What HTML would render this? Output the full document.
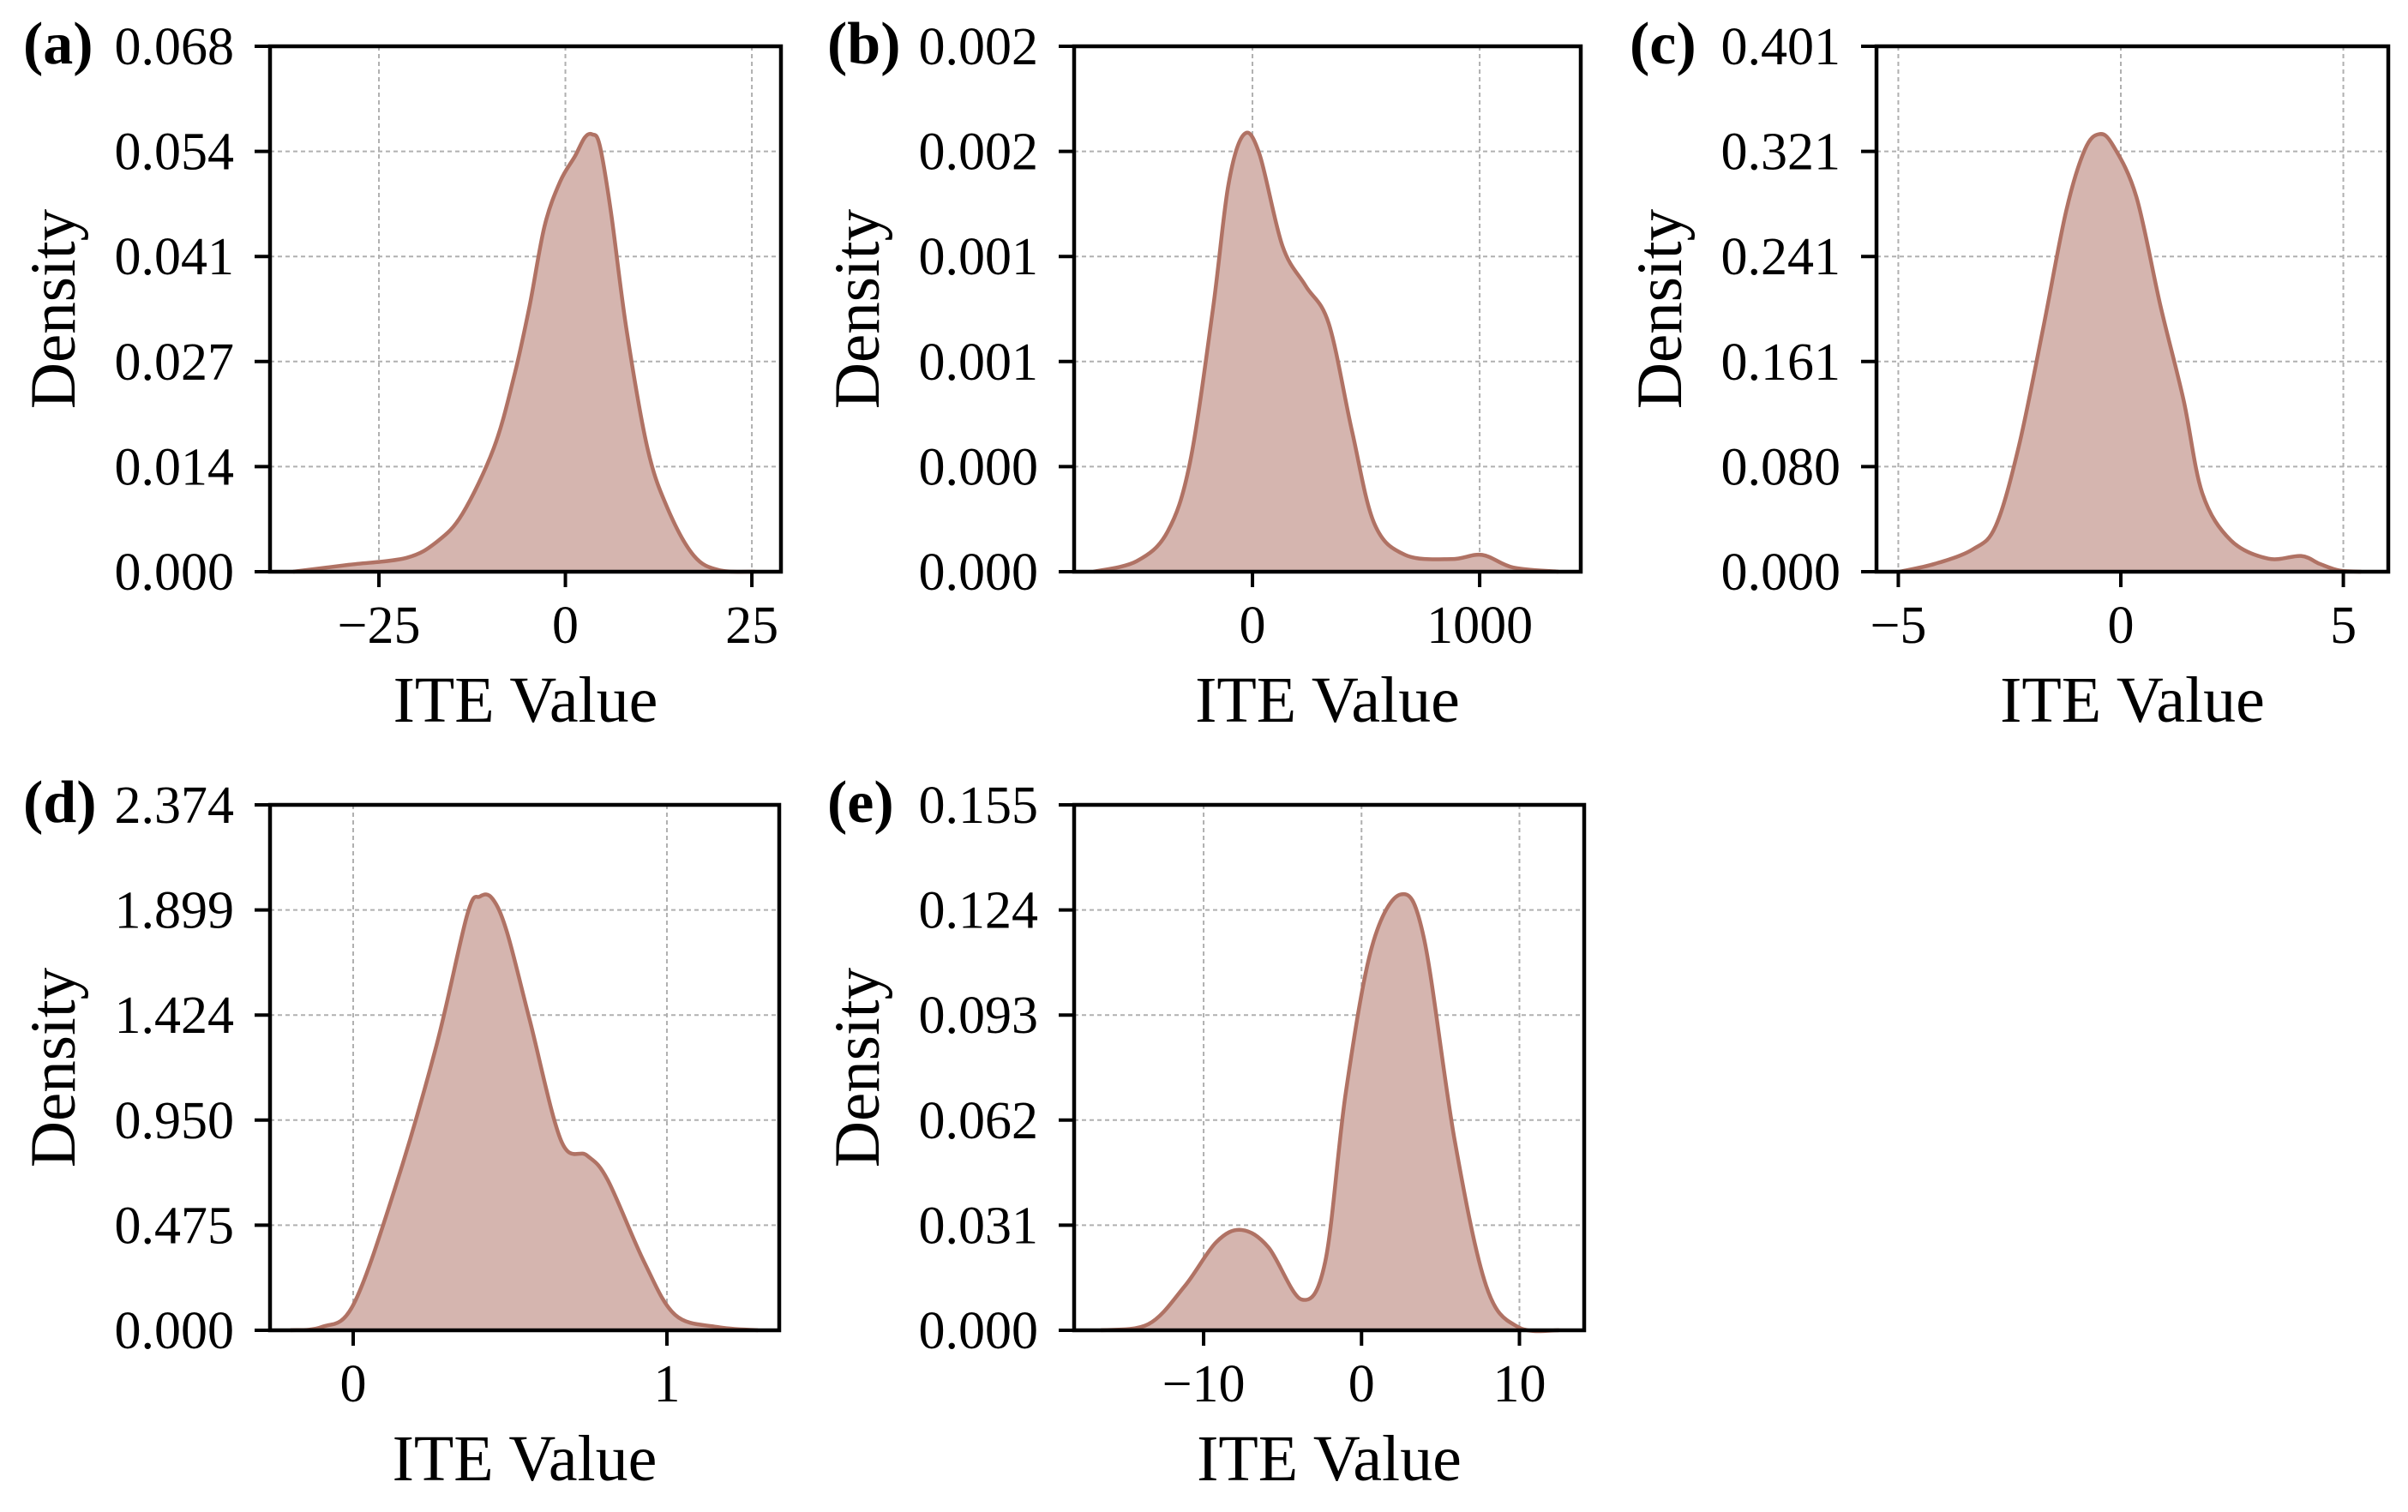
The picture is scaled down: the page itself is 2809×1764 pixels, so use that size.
<!DOCTYPE html>
<html><head><meta charset="utf-8">
<style>
html,body{margin:0;padding:0;background:#fff;}
svg{display:block;}
text{font-family:"Liberation Serif",serif;fill:#000;}
</style></head>
<body>
<svg id="fig" width="2809" height="1764" viewBox="0 0 2809 1764" xmlns="http://www.w3.org/2000/svg">
<rect x="0" y="0" width="2809" height="1764" fill="#fff"/>
</svg>
<script>
// ---- Panel (a) data ----
const aX = [-36.5,-29,-21.3,-17.2,-13.8,-9.6,-6.9,-4.8,-2.8,-0.7,1.3,2.6,3.6,4.6,6.1,8.2,11,13.7,17.2,20.6,25.4];
const aY = [0,0.0009,0.0018,0.0039,0.0075,0.016,0.0252,0.0344,0.0447,0.0505,0.0538,0.0562,0.0566,0.0552,0.0466,0.0313,0.016,0.0082,0.0021,0.0002,0];
const aXTicks = [-25,0,25];
const aXLabels = ["\u221225","0","25"];
const aYLabels = ["0.000","0.014","0.027","0.041","0.054","0.068"];
const aYMax = 0.068;
// ---- Panel (b) data ----
const bX = [-700,-510,-374,-275,-174,-106,-38,30,132,234,336,438,536,672,876,1011,1147,1347];
const bY = [0,0.00005,0.00019,0.00052,0.00125,0.00184,0.00208,0.00199,0.00155,0.00136,0.00118,0.00067,0.00023,0.00008,0.00006,0.00008,0.00002,0];
const bXTicks = [0,1000];
const bXLabels = ["0","1000"];
const bYLabels = ["0.000","0.000","0.001","0.001","0.002","0.002"];
const bYMax = 0.0025;
// ---- Panel (c) data ----
const cX = [-4.97,-4.18,-3.33,-2.81,-2.29,-1.75,-1.23,-0.81,-0.48,-0.17,0.35,0.89,1.41,1.83,2.47,3.31,4.05,4.47,4.9,5.4];
const cY = [0,0.006,0.017,0.035,0.096,0.185,0.275,0.322,0.334,0.325,0.286,0.203,0.131,0.060,0.024,0.010,0.012,0.006,0.001,0];
const cXTicks = [-5,0,5];
const cXLabels = ["\u22125","0","5"];
const cYLabels = ["0.000","0.080","0.161","0.241","0.321","0.401"];
const cYMax = 0.401;
// ---- Panel (d) data ----
const dX = [-0.2,-0.1,0,0.133,0.266,0.364,0.404,0.444,0.49,0.563,0.663,0.745,0.811,0.927,1.026,1.16,1.29];
const dY = [0,0.015,0.114,0.64,1.29,1.88,1.96,1.95,1.80,1.40,0.856,0.79,0.68,0.31,0.07,0.015,0];
const dXTicks = [0,1];
const dXLabels = ["0","1"];
const dYLabels = ["0.000","0.475","0.950","1.424","1.899","2.374"];
const dYMax = 2.374;
// ---- Panel (e) data ----
const eX = [-16.5,-13.5,-11.2,-9.2,-7.6,-5.9,-3.8,-2.3,-1.0,0.65,2.5,3.95,5.9,7.9,9.9,12.5];
const eY = [0,0.0018,0.013,0.026,0.0296,0.0245,0.0091,0.0202,0.070,0.113,0.1286,0.1157,0.056,0.013,0.001,0];
const eXTicks = [-10,0,10];
const eXLabels = ["\u221210","0","10"];
const eYLabels = ["0.000","0.031","0.062","0.093","0.124","0.155"];
const eYMax = 0.155;

const NS = "http://www.w3.org/2000/svg";
const svg = document.getElementById('fig');
function mk(tag, attrs, parent){
  const el = document.createElementNS(NS, tag);
  for (const k in attrs) el.setAttribute(k, attrs[k]);
  (parent||svg).appendChild(el);
  return el;
}
function smoothPath(pts){
  let d = "M" + pts[0][0].toFixed(2) + "," + pts[0][1].toFixed(2);
  for (let i=0;i<pts.length-1;i++){
    const p0 = pts[i-1]||pts[i], p1=pts[i], p2=pts[i+1], p3=pts[i+2]||pts[i+1];
    const c1x = p1[0]+(p2[0]-p0[0])/6, c1y = p1[1]+(p2[1]-p0[1])/6;
    const c2x = p2[0]-(p3[0]-p1[0])/6, c2y = p2[1]-(p3[1]-p1[1])/6;
    d += " C"+c1x.toFixed(2)+","+c1y.toFixed(2)+" "+c2x.toFixed(2)+","+c2y.toFixed(2)+" "+p2[0].toFixed(2)+","+p2[1].toFixed(2);
  }
  return d;
}

const panels = [
  {id:'a', letter:'(a)', L:315, R:911, T:54, B:667, xmin:-39.6, xmax:28.9, xs:aX, ys:aY, xt:aXTicks, xl:aXLabels, yl:aYLabels, ymax:aYMax},
  {id:'b', letter:'(b)', L:1253, R:1844, T:54, B:667, xmin:-785, xmax:1445, xs:bX, ys:bY, xt:bXTicks, xl:bXLabels, yl:bYLabels, ymax:bYMax},
  {id:'c', letter:'(c)', L:2189, R:2786, T:54, B:667, xmin:-5.49, xmax:6.01, xs:cX, ys:cY, xt:cXTicks, xl:cXLabels, yl:cYLabels, ymax:cYMax},
  {id:'d', letter:'(d)', L:315, R:909, T:939, B:1552, xmin:-0.265, xmax:1.358, xs:dX, ys:dY, xt:dXTicks, xl:dXLabels, yl:dYLabels, ymax:dYMax},
  {id:'e', letter:'(e)', L:1253, R:1848, T:939, B:1552, xmin:-18.2, xmax:14.1, xs:eX, ys:eY, xt:eXTicks, xl:eXLabels, yl:eYLabels, ymax:eYMax}
];

panels.forEach(p=>{
  const g = mk('g',{});
  
  
  const sx = v => p.L + (v - p.xmin)/(p.xmax - p.xmin)*(p.R - p.L);
  const sy = v => p.B - v/p.ymax*(p.B - p.T);
  const nY = p.yl.length - 1;
  p.xt.forEach((t,i)=>{
    const ln = mk('line',{x1:sx(t),x2:sx(t),y1:p.T,y2:p.B,stroke:'#b0b0b0','stroke-width':2,'stroke-dasharray':'5,4'},g);
    
    
  });
  p.yl.forEach((lab,i)=>{
    const v = p.ymax*i/nY;
    const ln = mk('line',{x1:p.L,x2:p.R,y1:sy(v),y2:sy(v),stroke:'#b0b0b0','stroke-width':2,'stroke-dasharray':'5,4'},g);
    
    
  });
  const pts = p.xs.map((x,i)=>[sx(x), sy(p.ys[i])]);
  const line = smoothPath(pts);
  const area = mk('path',{d: line + " L"+pts[pts.length-1][0].toFixed(2)+","+p.B+" L"+pts[0][0].toFixed(2)+","+p.B+" Z", fill:'#d5b5af', stroke:'none'},g);
  
  
  const curve = mk('path',{d: line, fill:'none', stroke:'#b07264','stroke-width':4.5,'stroke-linejoin':'round'},g);
  
  
  const fr = mk('rect',{x:p.L,y:p.T,width:p.R-p.L,height:p.B-p.T,fill:'none',stroke:'#000','stroke-width':4.5},g);
  
  
  p.yl.forEach((lab,i)=>{
    const y = sy(p.ymax*i/nY);
    const tk = mk('line',{x1:p.L-18,x2:p.L,y1:y,y2:y,stroke:'#000','stroke-width':4},g);
    
    
    const tx = mk('text',{x:p.L-42,y:y+21,'font-size':62,'text-anchor':'end'},g);
    tx.textContent = lab;
    
    
  });
  p.xt.forEach((t,i)=>{
    const x = sx(t);
    const tk = mk('line',{x1:x,x2:x,y1:p.B,y2:p.B+18,stroke:'#000','stroke-width':4},g);
    
    
    const tx = mk('text',{x:x,y:p.B+83,'font-size':62,'text-anchor':'middle'},g);
    tx.textContent = p.xl[i];
    
    
  });
  const xt = mk('text',{x:(p.L+p.R)/2,y:p.B+175,'font-size':76,'text-anchor':'middle'},g);
  xt.textContent = 'ITE Value';
  
  
  const cy = (p.T+p.B)/2, bx = p.L-228;
  const yt = mk('text',{x:bx,y:cy,'font-size':75,'text-anchor':'middle',transform:'rotate(-90 '+bx+' '+cy+')'},g);
  yt.textContent = 'Density';
  
  
  const lt = mk('text',{x:p.L-288,y:p.T+20,'font-size':70,'font-weight':'bold'},g);
  lt.textContent = p.letter;
  
  
});
</script>
</body></html>
